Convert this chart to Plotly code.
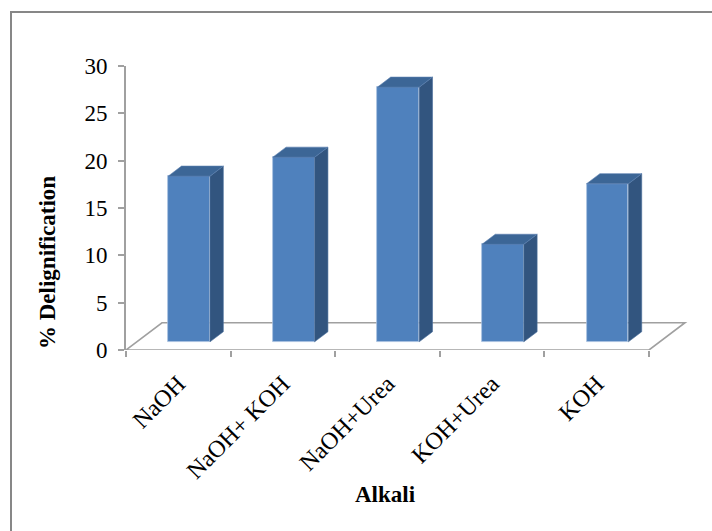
import plotly.graph_objects as go

# ---- data ----
categories = ["NaOH", "NaOH+ KOH", "NaOH+Urea", "KOH+Urea", "KOH"]
delignification = [17.5, 19.5, 26.9, 10.3, 16.7]
y_ticks = [0, 5, 10, 15, 20, 25, 30]

# ---- pseudo-3D projection constants (style) ----
DX, DY = 0.344, 2.88      # full floor depth offset in data units
ZF, ZB = 0.30, 0.67       # bar front / back depth fraction
BW = 0.40                 # bar width

FRONT = "#4F81BD"
SIDE = "#32557F"
TOP = "#3C6696"
AXIS = "#A0A0A0"
FONT = "Liberation Serif, Times New Roman, serif"

n = len(categories)
xs = list(range(n))
left, right = -0.5, n - 0.5

fig = go.Figure()

# front faces
fig.add_trace(go.Bar(
    x=[x + ZF * DX for x in xs],
    y=delignification,
    base=[ZF * DY] * n,
    width=BW,
    marker=dict(color=FRONT, line=dict(color="#A9C1E0", width=0.8)),
    showlegend=False, hoverinfo="skip"))

# side faces and top faces
sx, sy, tx, ty = [], [], [], []
for x, v in zip(xs, delignification):
    r = x + BW / 2
    l = x - BW / 2
    sx += [r + ZF * DX, r + ZB * DX, r + ZB * DX, r + ZF * DX, r + ZF * DX, None]
    sy += [ZF * DY, ZB * DY, v + ZB * DY, v + ZF * DY, ZF * DY, None]
    tx += [l + ZF * DX, r + ZF * DX, r + ZB * DX, l + ZB * DX, l + ZF * DX, None]
    ty += [v + ZF * DY, v + ZF * DY, v + ZB * DY, v + ZB * DY, v + ZF * DY, None]
fig.add_trace(go.Scatter(x=sx, y=sy, fill="toself", fillcolor=SIDE, mode="lines",
                         line=dict(color="#4A6E9C", width=0.6),
                         hoverinfo="skip", showlegend=False))
fig.add_trace(go.Scatter(x=tx, y=ty, fill="toself", fillcolor=TOP, mode="lines",
                         line=dict(color="#5A80B0", width=0.6),
                         hoverinfo="skip", showlegend=False))

L, R, T, B = 126, 12, 66, 181
W, H = 712, 531
pw = W - L - R
ph = H - T - B
x_end = left + pw / 104.6

floor_shapes = [
    dict(type="path", xref="x", yref="y", layer="below",
         path=f"M {left},0 L {right},0 L {right + DX},{DY} L {left + DX},{DY} Z",
         line=dict(color=AXIS, width=1.6), fillcolor="rgba(0,0,0,0)"),
]

frame = dict(type="rect", xref="paper", yref="paper",
             x0=(11 - L) / pw, x1=(730 - L) / pw,
             y0=(H - B - 560) / ph, y1=(H - B - 12) / ph,
             line=dict(color="#878787", width=2), fillcolor="rgba(0,0,0,0)",
             layer="below")

fig.update_layout(
    width=W, height=H,
    margin=dict(l=L, r=R, t=T, b=B),
    paper_bgcolor="white", plot_bgcolor="rgba(0,0,0,0)",
    showlegend=False, bargap=0,
    font=dict(family=FONT, color="black"),
    xaxis=dict(range=[left, x_end], tickmode="array", tickvals=xs,
               ticktext=categories, tickangle=-45, ticks="",
               tickfont=dict(family=FONT, size=24, color="black"),
               ticklabelstandoff=14,
               showgrid=False, zeroline=False, showline=False,
               minor=dict(tickmode="linear", tick0=-0.5, dtick=1, ticks="outside",
                          ticklen=6, tickcolor=AXIS, tickwidth=1.6, showgrid=False)),
    yaxis=dict(range=[0, 30], tickmode="array", tickvals=y_ticks,
               ticks="outside", ticklen=6, tickcolor=AXIS, tickwidth=1.6,
               showline=True, linecolor=AXIS, linewidth=1.6,
               tickfont=dict(family=FONT, size=23, color="black"),
               ticklabelstandoff=6,
               showgrid=False, zeroline=False),
    annotations=[
        dict(text="% Delignification", xref="paper", yref="paper",
             x=(47 - L) / pw, y=(H - B - 263) / ph, textangle=-90,
             showarrow=False,
             font=dict(family=FONT, size=23, color="black", weight="bold"),
             xanchor="center", yanchor="middle"),
        dict(text="Alkali", xref="paper", yref="paper",
             x=(385 - L) / pw, y=(H - B - 494) / ph,
             showarrow=False,
             font=dict(family=FONT, size=23, color="black", weight="bold"),
             xanchor="center", yanchor="middle"),
    ],
    shapes=floor_shapes + [frame],
)

fig.write_html("out.html")
